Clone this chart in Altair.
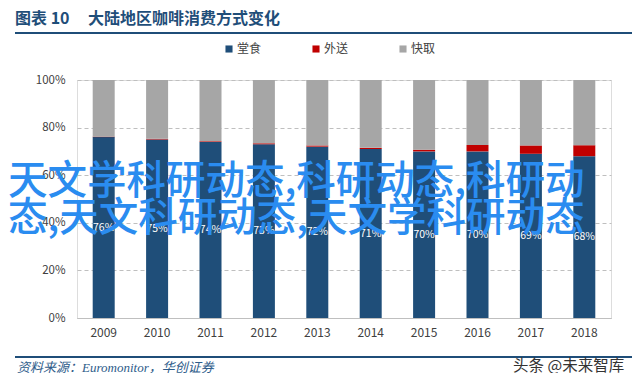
import altair as alt
import pandas as pd

years = ["2009", "2010", "2011", "2012", "2013", "2014", "2015", "2016", "2017", "2018"]
cats = ["堂食", "外送", "快取"]
colors = ["#1F4E79", "#C00000", "#A6A6A6"]
dine_in = [76, 75, 74, 73, 72, 71, 70, 70, 69, 68]
delivery = [0.2, 0.3, 0.3, 0.4, 0.5, 0.5, 0.7, 2.7, 3.5, 4.6]
takeaway = [23.8, 24.7, 25.7, 26.6, 27.5, 28.5, 29.3, 27.3, 27.5, 27.4]

title_a = ["图表 10"]
title_b = ["大陆地区咖啡消费方式变化"]
source_text = ["资料来源：Euromonitor，华创证券"]
brand_text = ["头条 @未来智库"]
wm_line1 = ["天文学科研动态,科研动态,科研动"]
wm_line2 = ["态,天文科研动态,天文学科研动态"]

rows = []
for i, y in enumerate(years):
    for k, (c, series) in enumerate(zip(cats, [dine_in, delivery, takeaway])):
        rows.append({"year": y, "cat": c, "value": series[i], "idx": k})
df = pd.DataFrame(rows)
df_dine = pd.DataFrame({"year": years, "value": dine_in})

FONT = "Noto Sans CJK SC"

xenc = alt.X(
    "year:N", sort=years,
    scale=alt.Scale(paddingInner=0, paddingOuter=0),
    axis=alt.Axis(title=None, labelAngle=0, ticks=False, domainColor="#BFBFBF",
                  labelFontSize=12, labelColor="#404040", labelPadding=9,
                  grid=False, labelFont=FONT),
)

bars = alt.Chart(df).mark_bar(size=22).encode(
    x=xenc,
    y=alt.Y("value:Q", stack="zero",
            scale=alt.Scale(domain=[0, 100], nice=False),
            axis=alt.Axis(title=None, values=[0, 20, 40, 60, 80, 100],
                          labelExpr="datum.value + '%'", ticks=False, domain=False,
                          gridDash=[4, 3], gridColor="#BFBFBF", labelPadding=12,
                          labelFontSize=11.5, labelColor="#404040", labelFont=FONT)),
    color=alt.Color("cat:N", scale=alt.Scale(domain=cats, range=colors),
                    legend=alt.Legend(title=None, orient="none", legendX=146, legendY=-37,
                                      direction="horizontal", symbolType="square",
                                      symbolSize=50, symbolStrokeWidth=0,
                                      labelFontSize=12, labelColor="#404040",
                                      columnPadding=48, labelOffset=2, labelFont=FONT)),
    order=alt.Order("idx:Q"),
)

labels = alt.Chart(df_dine).transform_calculate(
    mid="datum.value / 2", lab="datum.value + '%'"
).mark_text(color="white", fontSize=10.5, font=FONT).encode(
    x=alt.X("year:N", sort=years), y=alt.Y("mid:Q"), text="lab:N"
)

def text_layer(vals, x, y, **kw):
    return alt.Chart(pd.DataFrame({"t": vals})).mark_text(align="left", baseline="alphabetic", **kw).encode(
        x=alt.value(x), y=alt.value(y), text="t:N")

def hline(y, color="#1F4E79", w=2):
    return alt.Chart(pd.DataFrame({"a": [0]})).mark_rule(color=color, strokeWidth=w).encode(
        x=alt.value(-62), x2=alt.value(556), y=alt.value(y))

title1 = text_layer(title_a, -62, -56, fontSize=16, fontWeight="bold", color="#1F4E79", font=FONT)
title2 = text_layer(title_b, 11, -56, fontSize=16, fontWeight="bold", color="#1F4E79", font=FONT)
top_line = hline(-47)
bottom_line = hline(277)
source = text_layer(source_text, -60, 292, fontSize=13, fontStyle="italic", color="#2E5C8A",
                    font="Liberation Serif, Noto Sans CJK SC")
brand = text_layer(brand_text, 436, 291, fontSize=15.5, color="#333333", font=FONT)
wm1 = text_layer(wm_line1, -69, 114, fontSize=39.5, color="#2A8CF0", font=FONT, fontWeight=500)
wm2 = text_layer(wm_line2, -69, 151, fontSize=39.5, color="#2A8CF0", font=FONT, fontWeight=500)

chart = alt.layer(bars, labels, title1, title2, top_line, bottom_line, source, brand, wm1, wm2).properties(
    width=534, height=238,
    padding={"left": 69, "top": 72, "right": 21, "bottom": 55},
    autosize=alt.AutoSizeParams(type="none"),
).configure_view(stroke=None).configure(font=FONT)

chart.save("out.html", embed_options={"renderer": "svg", "actions": False})
